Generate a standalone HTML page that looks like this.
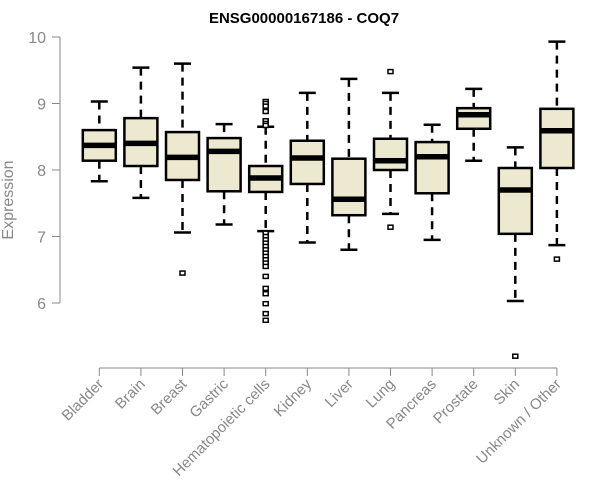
<!DOCTYPE html>
<html><head><meta charset="utf-8"><style>
body{margin:0;background:#fff}
svg{display:block;font-family:"Liberation Sans",Arial,sans-serif}
</style></head><body>
<svg id="chart" width="600" height="500">
<text x="304" y="23" text-anchor="middle" font-size="15" font-weight="bold" fill="#000">ENSG00000167186 - COQ7</text>
<text transform="translate(13,200) rotate(-90)" text-anchor="middle" font-size="16" fill="#888">Expression</text>
<g id="yaxis"></g>
<g id="xaxis"></g>
<g id="boxes"></g>
</svg>
<script>
const categories=["Bladder","Brain","Breast","Gastric","Hematopoietic cells","Kidney","Liver","Lung","Pancreas","Prostate","Skin","Unknown / Other"];
const lowWhisker=[7.83,7.58,7.06,7.18,7.08,6.91,6.80,7.34,6.95,8.14,6.03,6.87];
const q1=[8.14,8.06,7.85,7.68,7.67,7.79,7.32,8.00,7.65,8.62,7.04,8.03];
const medians=[8.37,8.40,8.19,8.28,7.88,8.18,7.56,8.14,8.20,8.83,7.70,8.59];
const q3=[8.60,8.78,8.57,8.48,8.06,8.44,8.17,8.47,8.42,8.93,8.03,8.92];
const highWhisker=[9.03,9.54,9.60,8.69,8.65,9.16,9.37,9.16,8.68,9.22,8.34,9.93];
const outliers=[[],[],[6.45],[],[9.03,9.00,8.96,8.88,8.74,8.70,8.67,7.05,7.0,6.95,6.9,6.85,6.8,6.75,6.7,6.65,6.6,6.55,6.40,6.22,6.14,5.99,5.84,5.74],[],[],[9.48,7.14],[],[],[5.20],[6.66]];
const yTicks=[6,7,8,9,10];
const NS="http://www.w3.org/2000/svg";
const y=v=>37+(10-v)*66.5;
const x=i=>99.3+i*41.6;
function mk(tag,attrs,parent){const e=document.createElementNS(NS,tag);for(const k in attrs)e.setAttribute(k,attrs[k]);parent.appendChild(e);return e;}
const ya=document.getElementById('yaxis');
mk('line',{x1:60,x2:60,y1:y(10),y2:y(6),stroke:'#888','stroke-width':1},ya);
yTicks.forEach(t=>{
  const l=mk('line',{x1:52,x2:60,y1:y(t),y2:y(t),stroke:'#888'},ya);
  
  
  const tx=mk('text',{x:46,y:y(t)+6,'text-anchor':'end','font-size':16,fill:'#888'},ya);
  tx.textContent=t;
  
  
});
const xa=document.getElementById('xaxis');
mk('line',{x1:x(0),x2:x(categories.length-1),y1:368,y2:368,stroke:'#888'},xa);
categories.forEach((c,i)=>{
  const l=mk('line',{x1:x(i),x2:x(i),y1:368,y2:376,stroke:'#888'},xa);
  
  
  const tx=mk('text',{transform:`translate(${x(i)+5},${385}) rotate(-45)`,'text-anchor':'end','font-size':15,fill:'#888'},xa);
  tx.textContent=c;
  
  
});
const bg=document.getElementById('boxes');
categories.forEach((c,i)=>{
  const g=mk('g',{},bg);
  
  
  const cx=x(i),hw=16.5;
  mk('line',{x1:cx,x2:cx,y1:y(highWhisker[i]),y2:y(q3[i]),stroke:'#000','stroke-width':2.5,'stroke-dasharray':'8,6'},g);
  mk('line',{x1:cx,x2:cx,y1:y(q1[i]),y2:y(lowWhisker[i]),stroke:'#000','stroke-width':2.5,'stroke-dasharray':'8,6'},g);
  mk('line',{x1:cx-8.5,x2:cx+8.5,y1:y(highWhisker[i]),y2:y(highWhisker[i]),stroke:'#000','stroke-width':2.5},g);
  mk('line',{x1:cx-8.5,x2:cx+8.5,y1:y(lowWhisker[i]),y2:y(lowWhisker[i]),stroke:'#000','stroke-width':2.5},g);
  mk('rect',{x:cx-hw,y:y(q3[i]),width:hw*2,height:y(q1[i])-y(q3[i]),fill:'#EDE8D0',stroke:'#000','stroke-width':2.5},g);
  mk('line',{x1:cx-hw,x2:cx+hw,y1:y(medians[i]),y2:y(medians[i]),stroke:'#000','stroke-width':5.5},g);
  outliers[i].forEach(o=>{
    const r=mk('rect',{x:cx-2.5,y:y(o)-2,width:5,height:4,fill:'#fff',stroke:'#000','stroke-width':1.5},g);
    
    
  });
});
</script>
</body></html>
